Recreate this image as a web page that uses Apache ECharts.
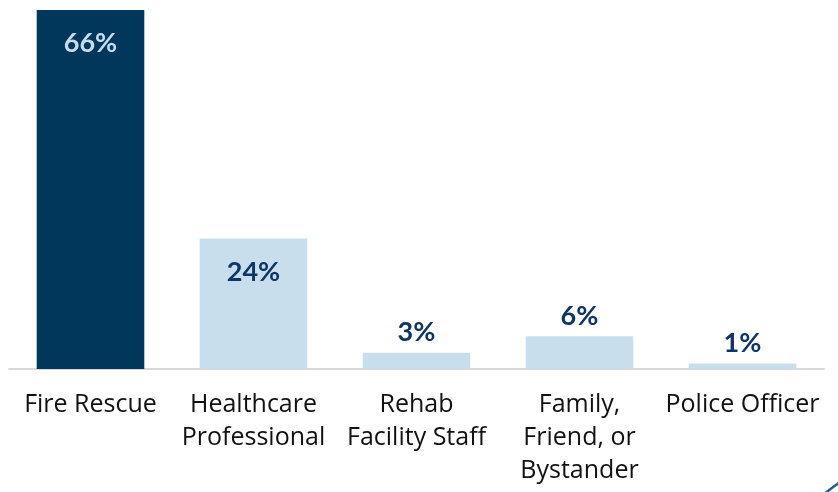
<!DOCTYPE html>
<html>
<head>
<meta charset="utf-8">
<style>
  html, body { margin: 0; padding: 0; background: #ffffff; }
  #chart { width: 838px; height: 492px; }
</style>
<script src="https://cdn.jsdelivr.net/npm/echarts@6/dist/echarts.min.js"></script>
</head>
<body>
<div id="chart"></div>
<script>
// Who responded first (share of cases, %)
const categories = [
  'Fire Rescue',
  'Healthcare\nProfessional',
  'Rehab\nFacility Staff',
  'Family,\nFriend, or\nBystander',
  'Police Officer'
];
const shares = [66, 24, 3, 6, 1];

const darkBlue = '#02375c';
const lightBlue = '#c9deec';
const labelNavy = '#0f3564';

const chart = echarts.init(document.getElementById('chart'));

const barData = shares.map(function (v, i) {
  const highlight = i === 0;
  const inside = v >= 10;
  return {
    value: v,
    itemStyle: { color: highlight ? darkBlue : lightBlue },
    label: {
      position: inside ? 'insideTop' : 'top',
      distance: inside ? 20 : 7,
      color: highlight ? '#c6dcec' : labelNavy
    }
  };
});

chart.setOption({
  animation: false,
  grid: { left: 9, right: 14, top: 10, bottom: 123 },
  xAxis: {
    type: 'category',
    data: categories,
    axisLine: { show: true, lineStyle: { color: '#d9d9d9', width: 2 } },
    axisTick: { show: false },
    axisLabel: {
      interval: 0,
      margin: 19,
      color: '#111111',
      fontFamily: 'Open Sans',
      fontSize: 25,
      lineHeight: 33,
      align: 'center'
    }
  },
  yAxis: {
    type: 'value',
    min: 0,
    max: 66,
    show: false,
    splitLine: { show: false }
  },
  series: [{
    type: 'bar',
    barWidth: '66%',
    data: barData,
    label: {
      show: true,
      formatter: '{c}%',
      fontFamily: 'Lato',
      fontWeight: 'bold',
      fontSize: 27,
      lineHeight: 27
    }
  }],
  graphic: [{
    // corner swoosh
    type: 'bezierCurve',
    shape: { x1: 824, y1: 494, cpx1: 831, cpy1: 488.5, x2: 840, y2: 482 },
    style: { stroke: '#1f5b97', lineWidth: 2.5, fill: null }
  }]
});
</script>
</body>
</html>
